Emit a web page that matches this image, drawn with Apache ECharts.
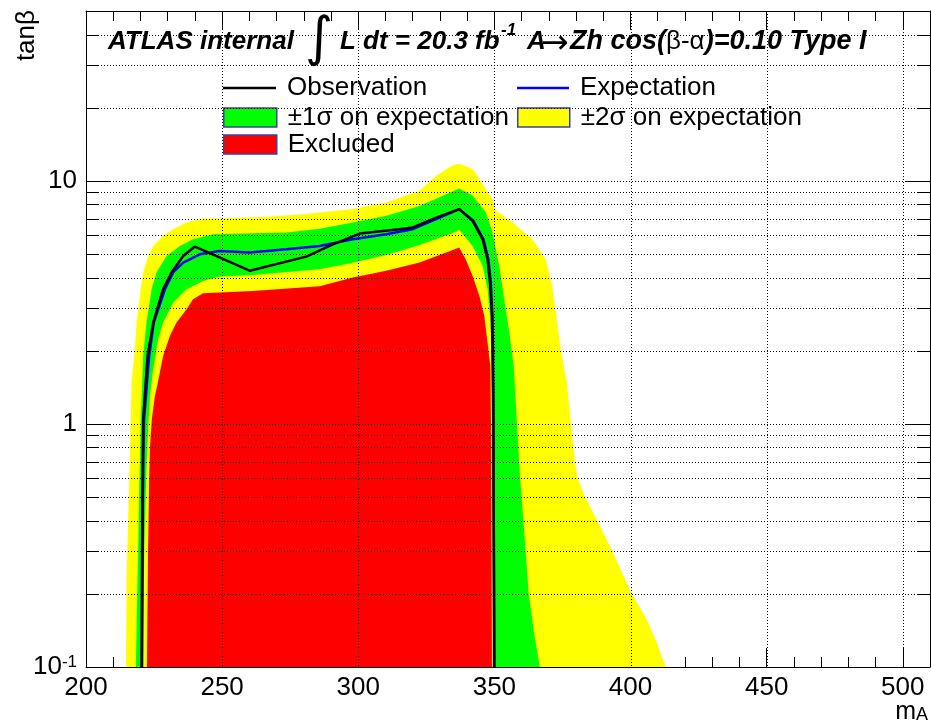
<!DOCTYPE html>
<html>
<head>
<meta charset="utf-8">
<script src="https://cdn.jsdelivr.net/npm/echarts@6/dist/echarts.min.js"></script>
<style>
  html, body { margin: 0; padding: 0; background: #fff; }
  #chart { width: 931px; height: 725px; }
</style>
</head>
<body>
<div id="chart"></div>
<script>
const FONT = '"Liberation Sans", Arial, Helvetica, sans-serif';

// Axis ranges
const X_MIN = 200, X_MAX = 510;
const Y_MIN = 0.1, Y_MAX = 50;

// Grid values: major verticals, major and minor (2..9 per decade) horizontals
const xGridTicks = [250, 300, 350, 400, 450, 500];
const yGridTicks = [1, 10];
const yMinorTicks = [0.2, 0.3, 0.4, 0.5, 0.6, 0.7, 0.8, 0.9,
                     2, 3, 4, 5, 6, 7, 8, 9, 20, 30, 40];

// Contours in (m_A, tanβ)
const plus2Sigma = [
  [214.7, 0.1], [214.9, 0.23], [215.9, 0.59], [216.4, 1.0], [216.8, 1.52], [217.7, 1.9],
  [218.6, 2.61], [220.1, 3.58], [221.0, 4.2], [222.8, 4.91], [224.7, 5.4], [228.3, 5.94],
  [232.0, 6.33], [236.9, 6.74], [243.0, 7.0], [249.1, 7.0], [265.0, 7.1], [279.7, 7.29],
  [298.0, 7.66], [310.3, 8.15], [322.5, 9.1], [328.6, 10.5], [334.7, 11.6], [337.1, 11.8],
  [342.0, 11.2], [346.9, 9.26], [349.3, 8.4], [350.6, 7.54], [356.7, 6.74], [364.0, 5.75],
  [368.9, 4.75], [371.0, 3.8], [372.0, 3.2], [374.4, 2.02], [376.6, 1.48], [378.1, 1.0],
  [379.6, 0.7], [380.5, 0.6], [383.3, 0.5], [387.8, 0.4], [393.3, 0.3], [400.4, 0.2],
  [405.6, 0.16], [409.8, 0.125], [412.9, 0.1]
];
const plus1Sigma = [
  [218.3, 0.1], [219.5, 0.5], [220.1, 1.04], [221.0, 1.9], [222.2, 2.61], [224.1, 3.58],
  [225.9, 4.2], [229.6, 4.91], [234.5, 5.4], [239.3, 5.75], [246.7, 6.03], [261.3, 6.09],
  [273.6, 6.14], [285.8, 6.35], [298.0, 6.74], [310.3, 7.18], [322.5, 7.89], [332.3, 8.82],
  [337.1, 9.3], [342.0, 8.7], [346.9, 7.41], [349.3, 6.14], [351.8, 4.47], [353.6, 3.26],
  [355.5, 2.37], [357.1, 1.73], [358.3, 1.0], [359.4, 0.61], [361.0, 0.355], [362.6, 0.2],
  [364.6, 0.137], [366.7, 0.1]
];
const minus1Sigma = [
  [220.9, 0.1], [221.4, 0.3], [222.3, 0.7], [222.9, 1.0], [223.5, 1.3], [224.5, 1.62],
  [226.5, 2.23], [228.3, 2.61], [232.0, 3.15], [236.9, 3.58], [243.0, 3.87], [249.1, 4.04],
  [261.3, 4.1], [285.8, 4.33], [298.0, 4.6], [310.3, 4.95], [322.5, 5.45], [334.7, 6.1],
  [337.1, 6.3], [342.0, 5.4], [345.7, 4.47], [347.5, 3.58], [348.4, 2.78], [349.0, 2.0],
  [349.4, 1.0], [349.7, 0.1]
];
const excluded = [
  [222.4, 0.1], [222.8, 0.31], [223.2, 0.59], [223.5, 0.81], [224.2, 1.05], [225.3, 1.3],
  [226.5, 1.5], [228.3, 1.9], [230.8, 2.3], [233.2, 2.61], [236.9, 2.96], [239.3, 3.26],
  [243.0, 3.45], [249.1, 3.47], [261.3, 3.52], [285.8, 3.69], [298.0, 4.0], [310.3, 4.27],
  [322.5, 4.62], [332.3, 5.07], [337.1, 5.32], [339.5, 4.75], [342.0, 4.06], [344.5, 3.36],
  [346.3, 2.78], [347.5, 2.16], [348.5, 1.73], [348.8, 0.92], [349.1, 0.1]
];
const observed = [
  [220.4, 0.1], [220.7, 0.5], [221.0, 1.04], [222.6, 1.9], [224.7, 2.61], [228.3, 3.58],
  [231.4, 4.2], [235.7, 4.91], [240.0, 5.37], [260.1, 4.27], [280.9, 4.88], [290.7, 5.48],
  [300.5, 6.07], [315.0, 6.33], [320.0, 6.43], [328.6, 7.06], [337.1, 7.65], [342.0, 6.85],
  [345.7, 5.75], [347.5, 4.75], [348.4, 3.81], [349.1, 2.78], [349.3, 2.02], [349.6, 1.0],
  [350.0, 0.1]
];
const expected = [
  [220.6, 0.1], [220.9, 0.5], [221.3, 1.04], [223.2, 1.9], [224.9, 2.61], [229.0, 3.58],
  [232.0, 4.2], [235.7, 4.61], [241.8, 4.99], [249.1, 5.15], [260.1, 5.07], [273.6, 5.23],
  [285.8, 5.4], [298.0, 5.75], [310.3, 6.03], [320.0, 6.33], [328.6, 6.96], [337.1, 7.65],
  [342.3, 6.85], [346.0, 5.75], [347.8, 4.75], [348.7, 3.81], [349.3, 2.78], [349.5, 2.02],
  [349.7, 1.0], [349.9, 0.1]
];

const NAME_OBS = 'Observation';
const NAME_EXP = 'Expectation';
const NAME_1S = '±1σ on expectation';
const NAME_2S = '±2σ on expectation';
const NAME_EXC = 'Excluded';

const YELLOW = '#ffff00', GREEN = '#00ff00', RED = '#ff0000';
const BLUE = '#0000ff', BLACK = '#000000';
const BOX_BORDER = '#4040a0';
const DOT_PITCH = 3;

function crisp(v) { return Math.round(v) + 0.5; }

// A dotted horizontal or vertical rule built from 1px segments.
function dottedRule(x1, y1, x2, y2) {
  let d = '';
  if (y1 === y2) {
    for (let x = Math.round(x1); x < x2; x += DOT_PITCH) d += 'M' + x + ' ' + y1 + 'L' + (x + 1) + ' ' + y1;
  } else {
    for (let y = Math.round(y1); y < y2; y += DOT_PITCH) d += 'M' + x1 + ' ' + y + 'L' + x1 + ' ' + (y + 1);
  }
  return { type: 'path', shape: { pathData: d },
           style: { stroke: '#000', lineWidth: 1, fill: 'none' } };
}

function tickMark(x1, y, x2) {
  return { type: 'line', shape: { x1, y1: y, x2, y2: y },
           style: { stroke: '#000', lineWidth: 1, fill: 'none' } };
}

// Dotted grid plus the short log-axis minor ticks, painted over the filled bands.
const gridSeries = {
  type: 'custom', z: 4, silent: true,
  data: [[X_MIN, Y_MIN]],
  renderItem(params, api) {
    const cs = params.coordSys;
    const left = cs.x, right = cs.x + cs.width, top = cs.y, bottom = cs.y + cs.height;
    const children = [];
    xGridTicks.forEach(v => {
      const x = crisp(api.coord([v, Y_MIN])[0]);
      children.push(dottedRule(x, top, x, bottom));
    });
    yGridTicks.concat(yMinorTicks).forEach(v => {
      const y = crisp(api.coord([X_MIN, v])[1]);
      children.push(dottedRule(left, y, right, y));
    });
    yMinorTicks.forEach(v => {
      const y = crisp(api.coord([X_MIN, v])[1]);
      children.push(tickMark(left, y, left + 13));
      children.push(tickMark(right - 13, y, right));
    });
    return { type: 'group', children };
  }
};

function polygonSeries(name, pts, color, z) {
  return {
    type: 'custom', name, z, silent: true,
    data: pts,
    itemStyle: { color },
    renderItem(params, api) {
      if (params.dataIndex !== 0) return null;
      return {
        type: 'polygon',
        shape: { points: pts.map(p => api.coord(p)) },
        style: { fill: color, stroke: null }
      };
    }
  };
}

function yLabel(v) {
  if (Math.abs(v - 0.1) < 1e-6) return '{n|10}{s|-1}';
  if (Math.abs(v - 1) < 1e-6) return '{n|1}';
  if (Math.abs(v - 10) < 1e-6) return '{n|10}';
  return '';
}

const gridRect = { left: 86, right: 1, top: 11, bottom: 58 };

function xAxisOf(gridIndex, position, interval, tickLen, withLabels, withLine) {
  return {
    type: 'value', gridIndex, position, min: X_MIN, max: X_MAX, interval,
    axisLine: { show: withLine, onZero: false, lineStyle: { color: '#000', width: 1 } },
    axisTick: { show: true, inside: true, length: tickLen, lineStyle: { color: '#000', width: 1 } },
    axisLabel: {
      show: withLabels, color: '#000', fontFamily: FONT, fontSize: 26, margin: 8,
      showMaxLabel: false
    },
    splitLine: { show: false }
  };
}

const legendBase = {
  orient: 'vertical', padding: 0, itemGap: 0, selectedMode: false,
  itemHeight: 19,
  textStyle: { color: '#000', fontFamily: FONT, fontSize: 26, padding: [0, 0, 0, 6] }
};
const boxStyle = color => ({ color, borderColor: BOX_BORDER, borderWidth: 1.5 });
const lineIcon = color => ({ color, borderWidth: 0 });

const boldItalic = size => ({ fontFamily: FONT, fontSize: size, fontWeight: 'bold',
                              fontStyle: 'italic', fill: '#000' });

const option = {
  backgroundColor: '#fff',
  animation: false,
  grid: [
    Object.assign({ show: false }, gridRect),
    Object.assign({ show: false }, gridRect)
  ],
  xAxis: [
    xAxisOf(0, 'bottom', 50, 19, true, true),
    xAxisOf(0, 'top', 50, 19, false, true),
    xAxisOf(1, 'bottom', 10, 10, false, false),
    xAxisOf(1, 'top', 10, 10, false, false)
  ],
  yAxis: [
    {
      type: 'log', logBase: 10, gridIndex: 0, position: 'left', min: Y_MIN, max: Y_MAX,
      axisLine: { show: true, lineStyle: { color: '#000', width: 1 } },
      axisTick: { show: true, inside: true, length: 25, lineStyle: { color: '#000' } },
      axisLabel: {
        color: '#000', margin: 9, showMaxLabel: false, formatter: yLabel,
        rich: {
          n: { fontFamily: FONT, fontSize: 26, color: '#000' },
          s: { fontFamily: FONT, fontSize: 17, color: '#000', verticalAlign: 'top' }
        }
      },
      splitLine: { show: false }
    },
    {
      type: 'log', logBase: 10, gridIndex: 0, position: 'right', min: Y_MIN, max: Y_MAX,
      axisLine: { show: true, lineStyle: { color: '#000', width: 1 } },
      axisTick: { show: true, inside: true, length: 25, lineStyle: { color: '#000' } },
      axisLabel: { show: false },
      splitLine: { show: false }
    },
    {
      type: 'log', logBase: 10, gridIndex: 1, min: Y_MIN, max: Y_MAX, show: false,
      splitLine: { show: false }
    }
  ],
  legend: [
    Object.assign({}, legendBase, { left: 223, top: 75, itemWidth: 53, itemHeight: 2.5,
      data: [{ name: NAME_OBS, icon: 'rect', itemStyle: lineIcon(BLACK) }] }),
    Object.assign({}, legendBase, { left: 223, top: 104.5, itemWidth: 53,
      data: [{ name: NAME_1S, icon: 'rect', itemStyle: boxStyle(GREEN) }] }),
    Object.assign({}, legendBase, { left: 223, top: 131.5, itemWidth: 53,
      data: [{ name: NAME_EXC, icon: 'rect', itemStyle: boxStyle(RED) }] }),
    Object.assign({}, legendBase, { left: 517, top: 75, itemWidth: 52, itemHeight: 2.5,
      data: [{ name: NAME_EXP, icon: 'rect', itemStyle: lineIcon(BLUE) }] }),
    Object.assign({}, legendBase, { left: 517, top: 104.5, itemWidth: 52,
      data: [{ name: NAME_2S, icon: 'rect', itemStyle: boxStyle(YELLOW) }] })
  ],
  graphic: [
    {
      type: 'text', x: 108, y: 42, z: 10, silent: true,
      style: Object.assign({ text: 'ATLAS internal', verticalAlign: 'middle' }, boldItalic(26))
    },
    {
      type: 'text', x: 305, y: 41, z: 10, silent: true,
      style: { text: '∫', fontFamily: '"DejaVu Sans", sans-serif', fontSize: 54,
               fill: '#000', verticalAlign: 'middle' }
    },
    {
      type: 'text', x: 340, y: 42, z: 10, silent: true,
      style: Object.assign({ text: 'L dt = 20.3 fb', verticalAlign: 'middle' }, boldItalic(26))
    },
    {
      type: 'text', x: 501, y: 30, z: 10, silent: true,
      style: Object.assign({ text: '-1', verticalAlign: 'middle' }, boldItalic(17))
    },
    {
      type: 'text', x: 527, y: 42, z: 10, silent: true,
      style: Object.assign({ text: 'A', verticalAlign: 'middle' }, boldItalic(26))
    },
    {
      type: 'text', x: 541, y: 44, z: 10, silent: true,
      style: { text: '→', fontFamily: '"DejaVu Sans", sans-serif', fontSize: 33,
               fill: '#000', verticalAlign: 'middle' }
    },
    {
      type: 'text', x: 570, y: 42, z: 10, silent: true,
      style: {
        text: '{b|Zh cos(}{g|β-α}{b|)=0.10 Type I}', verticalAlign: 'middle',
        rich: {
          b: boldItalic(27),
          g: { fontFamily: FONT, fontSize: 26, fill: '#000' }
        }
      }
    },
    {
      type: 'text', x: 27, y: 10, rotation: Math.PI / 2, z: 10, silent: true,
      style: { text: 'tanβ', fontFamily: FONT, fontSize: 26, fill: '#000',
               align: 'right', verticalAlign: 'middle' }
    },
    {
      type: 'text', x: 928, y: 712, z: 10, silent: true,
      style: {
        text: '{m|m}{a|A}', align: 'right', verticalAlign: 'middle',
        rich: {
          m: { fontFamily: FONT, fontSize: 25, fill: '#000' },
          a: { fontFamily: FONT, fontSize: 18, fill: '#000', verticalAlign: 'bottom' }
        }
      }
    }
  ],
  series: [
    polygonSeries(NAME_2S, plus2Sigma, YELLOW, 1),
    polygonSeries(NAME_1S, plus1Sigma, GREEN, 2),
    polygonSeries(NAME_2S, minus1Sigma, YELLOW, 3),
    polygonSeries(NAME_EXC, excluded, RED, 3),
    gridSeries,
    {
      type: 'line', name: NAME_EXP, data: expected, symbol: 'none', z: 5,
      silent: true, lineStyle: { color: BLUE, width: 2.5 }, itemStyle: { color: BLUE }
    },
    {
      type: 'line', name: NAME_OBS, data: observed, symbol: 'none', z: 6,
      silent: true, lineStyle: { color: BLACK, width: 2.5 }, itemStyle: { color: BLACK }
    }
  ]
};

const chart = echarts.init(document.getElementById('chart'), null, { renderer: 'canvas' });
chart.setOption(option);
</script>
</body>
</html>
